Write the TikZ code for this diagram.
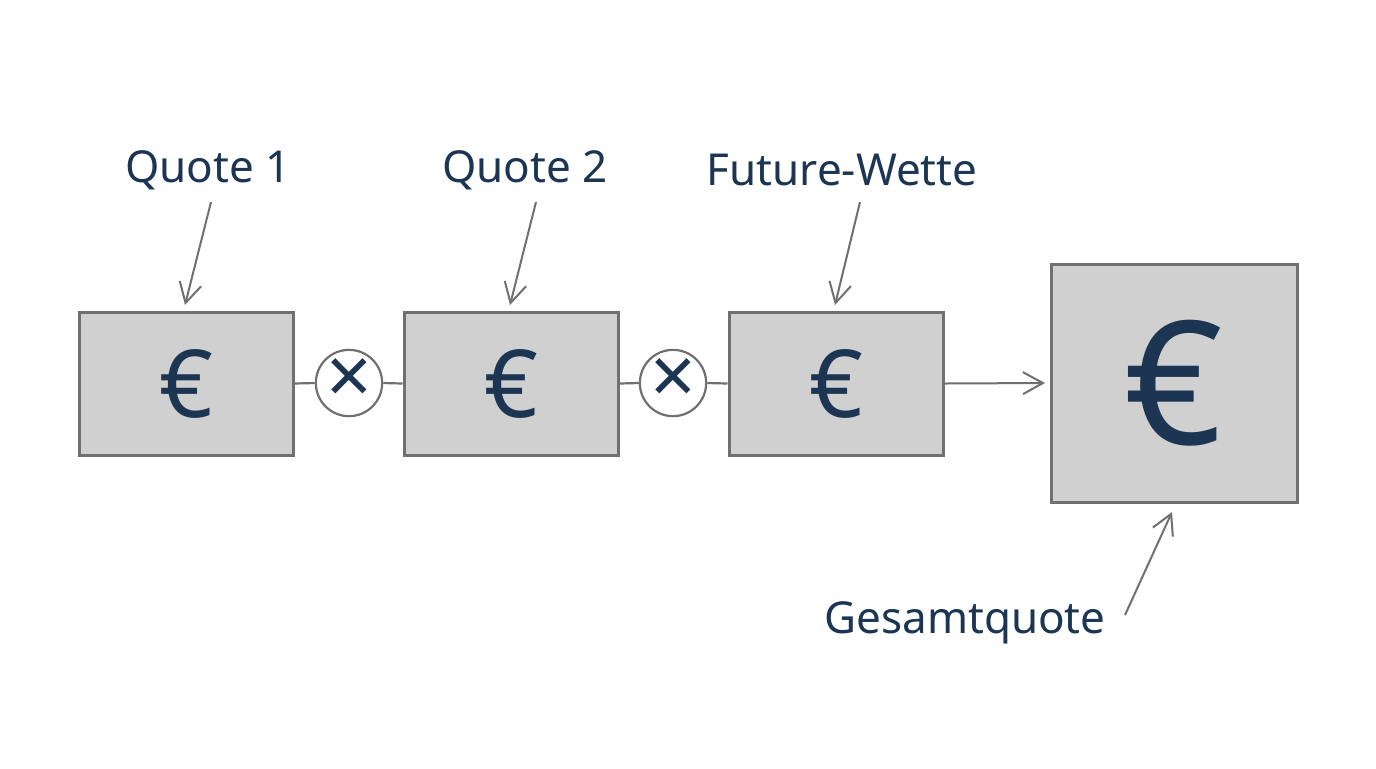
\documentclass[tikz,border=0pt]{standalone}
\usepackage{fontspec}
\setmainfont{Noto Sans}
\usetikzlibrary{arrows.meta}
\definecolor{navy}{HTML}{1B3552}
\definecolor{boxfill}{HTML}{D0D0D0}
\definecolor{lineg}{HTML}{707070}
\tikzset{
  eurobox/.style={draw=lineg, line width=1.5pt, fill=boxfill, inner sep=0pt, text=navy},
  opnode/.style={draw=lineg, line width=1.1pt, circle, fill=white, minimum size=32pt, inner sep=0pt, text=navy, font=\fontsize{40}{40}\selectfont},
  lbl/.style={text=navy, font=\fontsize{22}{26}\selectfont, inner sep=0pt},
  conn/.style={draw=lineg, line width=1.1pt},
  pointer/.style={draw=lineg, line width=1pt, -{Straight Barb[length=10pt, width=11pt, line width=1pt]}},
}
\begin{document}
\begin{tikzpicture}[x=0.5pt, y=-0.5pt]
\useasboundingbox[fill=white] (0,0) rectangle (1376,768);
\node[eurobox, minimum width=107pt, minimum height=71.5pt, font=\fontsize{47}{47}\selectfont] (b1) at (186,383.5) {€};
\node[eurobox, minimum width=107pt, minimum height=71.5pt, font=\fontsize{47}{47}\selectfont] (b2) at (511,383.5) {€};
\node[eurobox, minimum width=107pt, minimum height=71.5pt, font=\fontsize{47}{47}\selectfont] (b3) at (836,383.5) {€};
\node[eurobox, minimum width=123pt, minimum height=119pt, font=\fontsize{86}{86}\selectfont] (b4) at (1174,383) {€};
\node[opnode] (m1) at (349,383) {\raisebox{1pt}{×}};
\node[opnode] (m2) at (673,383) {\raisebox{1pt}{×}};
\draw[conn] (b1.east) -- (m1.west);
\draw[conn] (m1.east) -- (b2.west);
\draw[conn] (b2.east) -- (m2.west);
\draw[conn] (m2.east) -- (b3.west);
\coordinate (r4) at (1045,383);
\draw[pointer] (b3.east) -- (r4);
\node[lbl] (l1) at (208,170) {Quote 1};
\node[lbl] (l2) at (525,170) {Quote 2};
\node[lbl] (l3) at (842,170) {Future-Wette};
\node[lbl] (l4) at (965,623) {Gesamtquote};
\coordinate (a1s) at (211,202); \coordinate (a1e) at (185,305);
\coordinate (a2s) at (536,202); \coordinate (a2e) at (510,305);
\coordinate (a3s) at (860,202); \coordinate (a3e) at (835,305);
\coordinate (a4s) at (1125,615); \coordinate (a4e) at (1172,512);
\draw[pointer] (a1s) -- (a1e);
\draw[pointer] (a2s) -- (a2e);
\draw[pointer] (a3s) -- (a3e);
\draw[pointer] (a4s) -- (a4e);
\end{tikzpicture}
\end{document}
